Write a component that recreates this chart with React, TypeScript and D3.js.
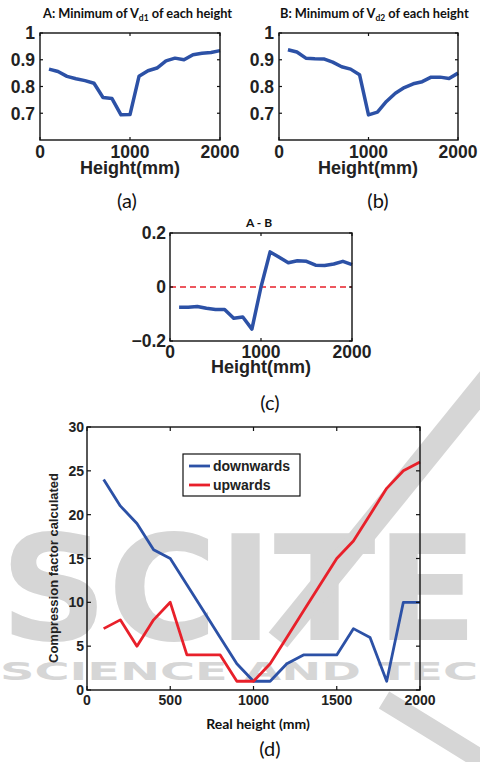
import React from 'react';
import * as d3 from 'd3';

// heights (mm) shared by all panels
const heights = [100, 200, 300, 400, 500, 600, 700, 800, 900, 1000, 1100, 1200, 1300, 1400, 1500, 1600, 1700, 1800, 1900, 2000];

// panel (a): minimum of Vd1
const minVd1 = [0.865, 0.856, 0.838, 0.829, 0.822, 0.812, 0.759, 0.755, 0.694, 0.695, 0.838, 0.859, 0.869, 0.896, 0.906, 0.9, 0.919, 0.924, 0.927, 0.934];
// panel (b): minimum of Vd2
const minVd2 = [0.9375, 0.929, 0.906, 0.904, 0.903, 0.891, 0.874, 0.865, 0.844, 0.694, 0.704, 0.744, 0.775, 0.796, 0.81, 0.818, 0.835, 0.835, 0.83, 0.85];
// panel (c): A - B
const diffAB = [-0.075, -0.075, -0.072, -0.079, -0.083, -0.083, -0.116, -0.111, -0.156, 0.0, 0.13, 0.11, 0.09, 0.097, 0.095, 0.081, 0.08, 0.085, 0.095, 0.083];
// panel (d): compression factor
const downwards = [24, 21, 19, 16, 15, 12, 9, 6, 3, 1, 1, 3, 4, 4, 4, 7, 6, 1, 10, 10];
const upwards = [7, 8, 5, 8, 10, 4, 4, 4, 1, 1, 3, 6, 9, 12, 15, 17, 20, 23, 25, 26];

const smallXTicks = [0, 1000, 2000];
const smallYTicks = [0.7, 0.8, 0.9, 1];
const diffYTicks = [-0.2, 0, 0.2];
const bigXTicks = [0, 500, 1000, 1500, 2000];
const bigYTicks = [0, 5, 10, 15, 20, 25, 30];

const BLUE = '#2c51a6';
const RED = '#e8202a';
const AX_FONT = '"Liberation Sans", Arial, sans-serif';
const CAP_FONT = 'Lato, "Open Sans", sans-serif';
const WM = '#d6d6d6';

type Series = { values: number[]; color: string; width: number };

type PanelProps = {
  box: [number, number, number, number]; // left, top, right, bottom
  yDomain: [number, number];
  xTicks: number[];
  yTicks: number[];
  yFormat: (v: number) => string;
  fontSize: number;
  tickLen: number;
  labelGap: number;
  xLabelDy: number;
  series: Series[];
  zeroLine?: boolean;
};

const Panel = ({ box, yDomain, xTicks, yTicks, yFormat, fontSize, tickLen, labelGap, xLabelDy, series, zeroLine }: PanelProps) => {
  const [l, t, r, b] = box;
  const x = d3.scaleLinear().domain([0, 2000]).range([l, r]);
  const y = d3.scaleLinear().domain(yDomain).range([b, t]);
  const line = d3.line<number>().x((_, i) => x(heights[i])).y(d => y(d));

  return (
    <g>
      {zeroLine && (
        <line x1={l} x2={r} y1={y(0)} y2={y(0)} stroke={RED} strokeWidth={1.5} strokeDasharray="6,4" />
      )}
      {series.map((s, i) => (
        <path key={i} d={line(s.values) || ''} fill="none" stroke={s.color} strokeWidth={s.width} strokeLinejoin="round" />
      ))}
      <rect x={l} y={t} width={r - l} height={b - t} fill="none" stroke="#111" strokeWidth={1.4} />
      {xTicks.map(v => (
        <g key={'x' + v}>
          <line x1={x(v)} x2={x(v)} y1={b} y2={b - tickLen} stroke="#111" strokeWidth={1.2} />
          <line x1={x(v)} x2={x(v)} y1={t} y2={t + tickLen} stroke="#111" strokeWidth={1.2} />
          <text x={x(v)} y={b + xLabelDy} textAnchor="middle" fontFamily={AX_FONT} fontWeight="bold" fontSize={fontSize} fill="#222">{v}</text>
        </g>
      ))}
      {yTicks.map(v => (
        <g key={'y' + v}>
          <line x1={l} x2={l + tickLen} y1={y(v)} y2={y(v)} stroke="#111" strokeWidth={1.2} />
          <line x1={r} x2={r - tickLen} y1={y(v)} y2={y(v)} stroke="#111" strokeWidth={1.2} />
          <text x={l - labelGap} y={y(v)} dy="0.36em" textAnchor="end" fontFamily={AX_FONT} fontWeight="bold" fontSize={fontSize} fill="#222">{yFormat(v)}</text>
        </g>
      ))}
    </g>
  );
};

const smallFmt = (v: number) => (v === 1 ? '1' : v.toFixed(1));
const diffFmt = (v: number) => (v === 0 ? '0' : (v < 0 ? '\u2212' : '') + Math.abs(v).toFixed(1));

export default function App() {
  return (
    <svg width={480} height={762} style={{ position: 'absolute', left: 0, top: 0, background: '#fff' }}>
      {/* watermark */}
      <g fill={WM} stroke="none">
        <text x={0} y={640} fontFamily='"DejaVu Sans", sans-serif' fontWeight="bold" fontSize={146} textLength={478} lengthAdjust="spacingAndGlyphs">SCITE</text>
        <text x={0} y={680} fontFamily='"DejaVu Sans", sans-serif' fontWeight="bold" fontSize={25} textLength={478} lengthAdjust="spacingAndGlyphs">SCIENCE AND TEC</text>
      </g>
      <path d="M 490 378 L 278 640" stroke={WM} strokeWidth={24} fill="none" />
      <path d="M 384 700 Q 430 728 488 764" stroke={WM} strokeWidth={20} fill="none" />

      {/* panel titles */}
      <text x={43} y={18} fontFamily={CAP_FONT} fontWeight="bold" fontSize={12.8} fill="#111">
        A: Minimum of V<tspan fontSize={8.5} dy={3}>d1</tspan><tspan dy={-3}> of each height</tspan>
      </text>
      <text x={280} y={18} fontFamily={CAP_FONT} fontWeight="bold" fontSize={12.8} fill="#111">
        B: Minimum of V<tspan fontSize={8.5} dy={3}>d2</tspan><tspan dy={-3}> of each height</tspan>
      </text>

      <Panel box={[40, 33, 220, 140]} yDomain={[0.6, 1]} xTicks={smallXTicks} yTicks={smallYTicks} yFormat={smallFmt}
        fontSize={17.5} tickLen={3} labelGap={5} xLabelDy={18} series={[{ values: minVd1, color: BLUE, width: 3.5 }]} />
      <Panel box={[279, 33, 458, 140]} yDomain={[0.6, 1]} xTicks={smallXTicks} yTicks={smallYTicks} yFormat={smallFmt}
        fontSize={17.5} tickLen={3} labelGap={5} xLabelDy={18} series={[{ values: minVd2, color: BLUE, width: 3.5 }]} />
      <text x={130} y={174} textAnchor="middle" fontFamily={AX_FONT} fontWeight="bold" fontSize={18} fill="#222">Height(mm)</text>
      <text x={368} y={174} textAnchor="middle" fontFamily={AX_FONT} fontWeight="bold" fontSize={18} fill="#222">Height(mm)</text>
      <text x={127} y={208} textAnchor="middle" fontFamily={CAP_FONT} fontSize={20} fill="#111">(a)</text>
      <text x={378} y={208} textAnchor="middle" fontFamily={CAP_FONT} fontSize={20} fill="#111">(b)</text>

      {/* panel c */}
      <text x={259} y={227} textAnchor="middle" fontFamily={CAP_FONT} fontWeight="bold" fontSize={12} fill="#111">A - B</text>
      <Panel box={[170, 233, 352, 341]} yDomain={[-0.2, 0.2]} xTicks={smallXTicks} yTicks={diffYTicks} yFormat={diffFmt}
        fontSize={17.5} tickLen={3} labelGap={4} xLabelDy={17} series={[{ values: diffAB, color: BLUE, width: 3.5 }]} zeroLine />
      <text x={261} y={373} textAnchor="middle" fontFamily={AX_FONT} fontWeight="bold" fontSize={18} fill="#222">Height(mm)</text>
      <text x={270} y={410} textAnchor="middle" fontFamily={CAP_FONT} fontSize={20} fill="#111">(c)</text>

      {/* panel d */}
      <Panel box={[87, 427, 420, 690]} yDomain={[0, 30]} xTicks={bigXTicks} yTicks={bigYTicks} yFormat={v => String(v)}
        fontSize={14} tickLen={4} labelGap={3} xLabelDy={15}
        series={[{ values: downwards, color: BLUE, width: 2.8 }, { values: upwards, color: RED, width: 2.8 }]} />
      <g>
        <rect x={183} y={454} width={117} height={42} fill="#fff" stroke="#111" strokeWidth={1.2} />
        <line x1={189} x2={210} y1={466} y2={466} stroke={BLUE} strokeWidth={2.8} />
        <line x1={189} x2={210} y1={485} y2={485} stroke={RED} strokeWidth={2.8} />
        <text x={213} y={466} dy="0.36em" fontFamily={AX_FONT} fontWeight="bold" fontSize={14} fill="#222">downwards</text>
        <text x={213} y={485} dy="0.36em" fontFamily={AX_FONT} fontWeight="bold" fontSize={14} fill="#222">upwards</text>
      </g>
      <text transform="translate(58,568) rotate(-90)" textAnchor="middle" fontFamily={AX_FONT} fontWeight="bold" fontSize={13} fill="#222">Compression factor calculated</text>
      <text x={258} y={729} textAnchor="middle" fontFamily={CAP_FONT} fontWeight="bold" fontSize={14} fill="#111">Real height (mm)</text>
      <text x={270} y={756} textAnchor="middle" fontFamily={CAP_FONT} fontSize={20} fill="#111">(d)</text>
    </svg>
  );
}
